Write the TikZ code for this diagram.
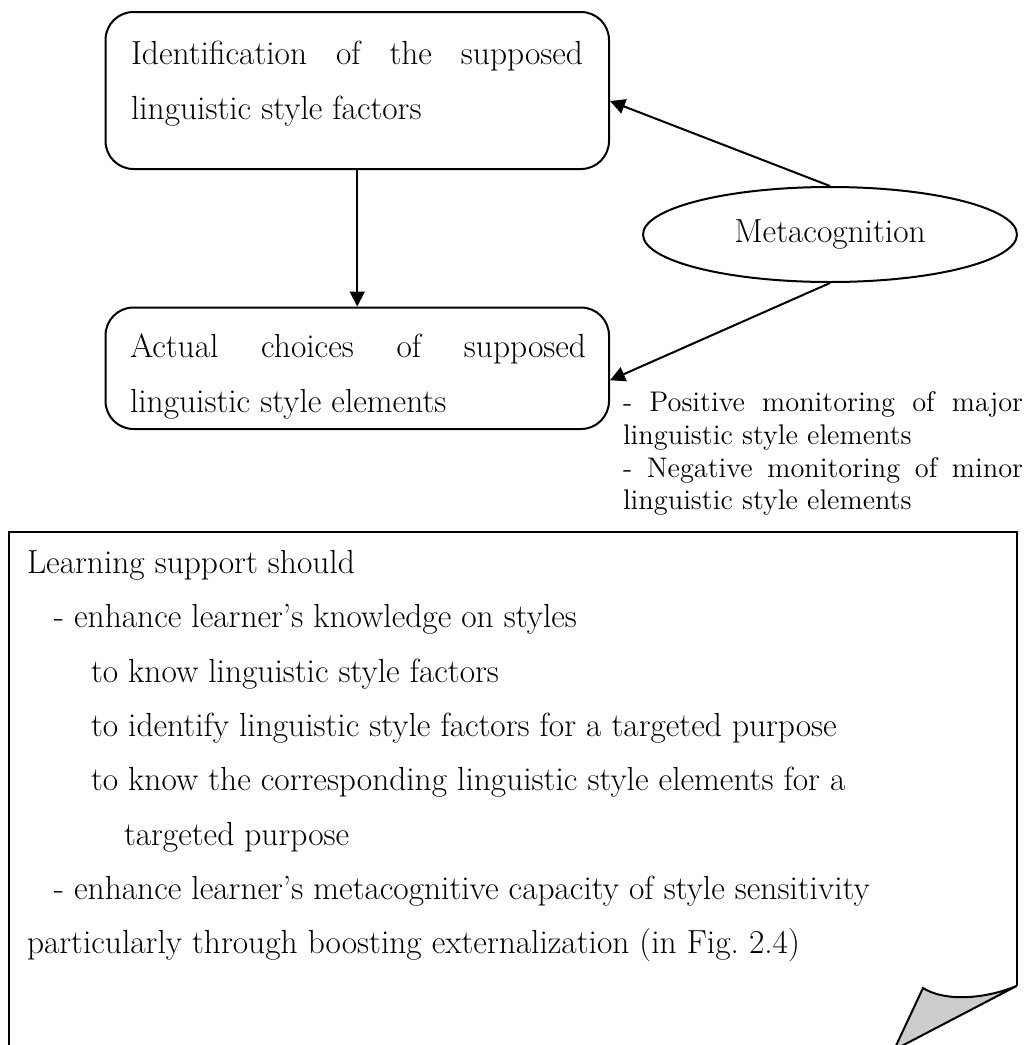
\documentclass[tikz,border=0pt]{standalone}
\usetikzlibrary{shapes.geometric,arrows.meta,calc}
\begin{document}
\begin{tikzpicture}[x=0.5pt,y=-0.5pt,
  line width=1pt,
  boxnode/.style={draw, rounded corners=14pt, minimum width=251.75pt, inner sep=0pt},
  txt/.style={anchor=base west, inner sep=0pt, font=\fontsize{16.7}{20}\selectfont},
  small/.style={anchor=base west, inner sep=0pt, font=\fontsize{14.2}{17}\selectfont},
  link/.style={-{Triangle[length=7.5pt,width=7.5pt]}, line width=1pt}
]
\useasboundingbox (0,0) rectangle (1030,1045);
\clip (0,0) rectangle (1030,1045);

% upper process box
\node[boxnode, minimum height=78.5pt] (ident) at (357.25,90.5) {};
\node[txt] (identA) at (130,64) {\makebox[226pt][s]{Identification of the supposed}};
\node[txt] (identB) at (130,119) {linguistic style factors};

% lower process box
\node[boxnode, minimum height=60.75pt] (act) at (357.25,368.25) {};
\node[txt] (actA) at (129,357) {\makebox[228pt][s]{Actual choices of supposed}};
\node[txt] (actB) at (129,412) {linguistic style elements};

% metacognition
\node[draw, ellipse, minimum width=187pt, minimum height=47.5pt, inner sep=0pt,
      font=\fontsize{16.7}{20}\selectfont] (meta) at (830,234.5) {Metacognition};

% connectors
\draw[link] (ident.south) -- (act.north);
\draw[link] (meta.north) -- ($(ident.east)+(0,10.5)$);
\draw[link] (meta.south) -- ($(act.east)+(0,12)$);

% monitoring notes
\node[small] (mon1) at (622,411) {\makebox[200pt][s]{- Positive monitoring of major}};
\node[small] (mon2) at (622,444) {linguistic style elements};
\node[small] (mon3) at (622,477) {\makebox[200pt][s]{- Negative monitoring of minor}};
\node[small] (mon4) at (622,509) {linguistic style elements};

% note sheet with folded corner
\draw (894,1050) -- (9,1050) -- (9,532) -- (1016.5,532) -- (1016.5,986);
\filldraw[fill=black!20] (1016.5,986) .. controls (985,999) and (945,1002) .. (923,988)
  -- (894,1050) -- cycle;

\node[txt] (n1) at (26,573) {Learning support should};
\node[txt] (n2) at (53,627) {- enhance learner's knowledge on styles};
\node[txt] (n3) at (90,682) {to know linguistic style factors};
\node[txt] (n4) at (90,736) {to identify linguistic style factors for a targeted purpose};
\node[txt] (n5) at (90,790) {to know the corresponding linguistic style elements for a};
\node[txt] (n6) at (123,845) {targeted purpose};
\node[txt] (n7) at (53,899) {- enhance learner's metacognitive capacity of style sensitivity};
\node[txt] (n8) at (26,953) {particularly through boosting externalization (in Fig.~2.4)};
\end{tikzpicture}
\end{document}
